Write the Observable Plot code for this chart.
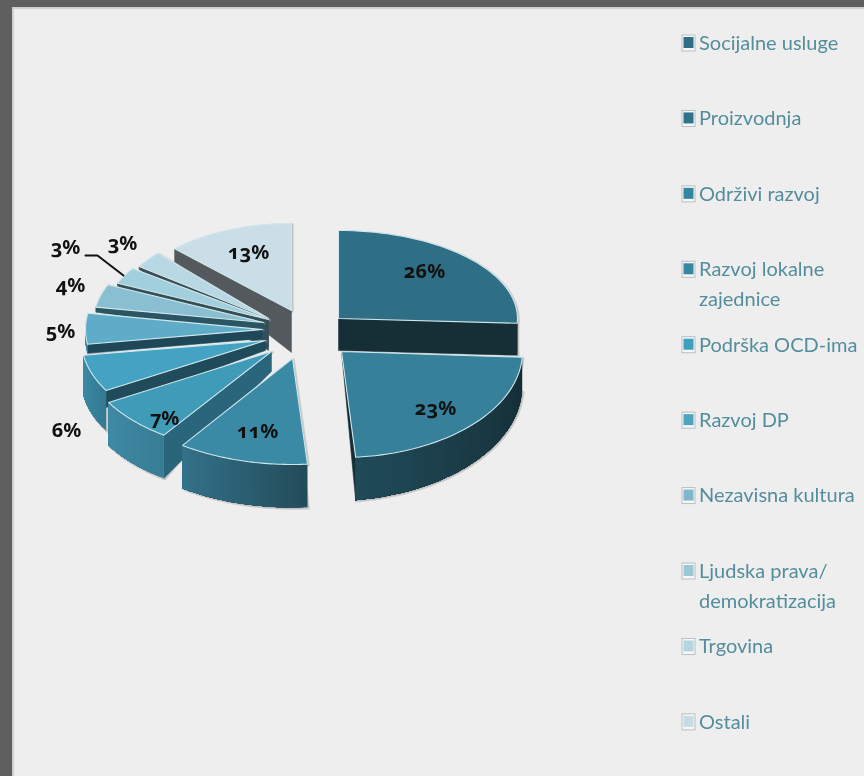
<!DOCTYPE html>
<html><head><meta charset="utf-8">
<script src="https://cdn.jsdelivr.net/npm/d3@7"></script>
<script src="https://cdn.jsdelivr.net/npm/@observablehq/plot@0.6"></script>
<style>
html,body{margin:0;padding:0;background:#eee;overflow:hidden}
svg{display:block}
text{font-variant-numeric:oldstyle-nums;font-feature-settings:"onum" 1}
</style></head><body>
<script>
// --- data ---
const categories = ["Socijalne usluge","Proizvodnja","Održivi razvoj","Razvoj lokalne\nzajednice","Podrška OCD-ima","Razvoj DP","Nezavisna kultura","Ljudska prava/\ndemokratizacija","Trgovina","Ostali"];
const shares = [26,23,11,7,6,5,4,3,3,12.5];

// --- styling ---
const topColors  = ["#2f6f85","#36809a","#3a8aa6","#409bb8","#44a3c2","#5eacc8","#8abfd2","#a2cfdd","#b8d9e3","#c9dee6"];
const swatchColors = ["#2f6f85","#2f7488","#32899f","#36879f","#3ea0bd","#4ea3c0","#7fb8cc","#9cc8d6","#b5d6e0","#c6dce4"];
const faceColors = ["#162e36","#162e36",null,"#2a667b","#1f4b5b","#1e4858","#2b5563","#354f59","#3c4e55","#53595d"];
const wallFrom   = ["#162e36","#142c34","#234c5a","#387d95","#347a93","#3d86a0",null,null,null,null];
const wallTo     = ["#162e36","#204a58","#33728a","#3f8aa5","#3d8aa5","#3d86a0",null,null,null,null];
// projected placement of each exploded slice
const cxs = [338,341,292,271,265,262,263,268,268,291];
const cys = [318,351,358,351,340,329,322,319,318,310];
const rxs = [179,181,192,188,184,177,170,165,157,166];
const rys = [ 88,106,106,102,100,100, 94, 90, 92, 87];
const wallD0 = [32,34,43,43,40, 9, 0, 0, 0, 0];
const wallD1 = [32,43,43,43,40, 9, 0, 0, 0, 0];
const faceSide = ["end","end",null,"start","start","start","start","start","start","start"];
const faceOuter = [32,43,0,43,17, 9, 5, 3, 3,13];
const faceApex  = [32, 0,0,20,10, 9,12,28,32,42];
const drawOrder = [0,9,8,7,6,5,4,3,2,1];
const labelX = [424,435,257,164,66,60,70,65,122,248];
const labelY = [271,408,431,418,430,331,285,247,243,252];
const leaderLine = [[85,255],[97,255],[123,275]];
const legendTop = 43, legendStep = 75.43;

// --- geometry from the values ---
const arcs = d3.pie().sort(null).value(d => d)(shares);
const deg = Math.PI;
const marks = [];
const rim = (i, t, drop = 0) => ({x: cxs[i] + rxs[i] * Math.sin(t), y: cys[i] - rys[i] * Math.cos(t) + drop});

for (const i of drawOrder) {
  const a0 = arcs[i].startAngle, a1 = arcs[i].endAngle, n = 40;
  const ts = d3.range(n + 1).map(k => a0 + (a1 - a0) * k / n);
  const apex = {x: cxs[i], y: cys[i]};
  const topPoly = [apex, ...ts.map(t => rim(i, t)), apex];
  const depth = t => wallD0[i] + (wallD1[i] - wallD0[i]) * (t - a0) / (a1 - a0);
  const front = ts.filter(t => t >= deg / 2 && t <= 1.5 * deg);

  // soft outline behind the solid
  const sil = [apex, ...ts.map(t => rim(i, t)),
               ...front.slice().reverse().map(t => rim(i, t, depth(t))), apex];
  marks.push(Plot.line(sil, {x: "x", y: "y", fill: "#999", stroke: "#9a9a9a", strokeWidth: 2.5, strokeOpacity: 0.4, fillOpacity: 0.4, dx: 1, dy: 1}));

  // radial cut face
  if (faceSide[i]) {
    const t = faceSide[i] === "start" ? a0 : a1;
    const p = rim(i, t);
    const face = [apex, p, {x: p.x, y: p.y + faceOuter[i]}, {x: apex.x, y: apex.y + faceApex[i]}, apex];
    marks.push(Plot.line(face, {x: "x", y: "y", fill: faceColors[i], stroke: faceColors[i], strokeWidth: 0.5}));
  }
  // outer wall: each strip runs to the far end, so no seams show between them
  if (wallFrom[i] && front.length > 1) {
    const shade = d3.interpolateRgb(wallFrom[i], wallTo[i]);
    const strips = [];
    front.slice(0, -1).forEach((t, k) => {
      const color = shade(k / (front.length - 2));
      const rest = front.slice(k);
      for (const u of rest) strips.push({id: k, color, ...rim(i, u)});
      for (const u of rest.slice().reverse()) strips.push({id: k, color, ...rim(i, u, depth(u))});
    });
    marks.push(Plot.line(strips, {x: "x", y: "y", z: "id", fill: "color", stroke: "none"}));
  }
  // top surface
  marks.push(Plot.line(topPoly, {x: "x", y: "y", fill: topColors[i], stroke: "#cfe6ec", strokeWidth: 1.1}));
}

// leader line
marks.push(Plot.line(leaderLine, {x: d => d[0], y: d => d[1], stroke: "#111", strokeWidth: 2}));

// percentage labels
marks.push(Plot.text(shares, {
  x: (d, i) => labelX[i], y: (d, i) => labelY[i], text: d => Math.round(d) + "%",
  fontFamily: "'Noto Sans', Lato, sans-serif", fontWeight: 700, fontSize: 20, fill: "#111"
}));

// legend
const legendY = (d, i) => legendTop + i * legendStep;
marks.push(
  Plot.rect(categories, {x1: () => 682, x2: () => 695, y1: (d, i) => legendY(d, i) - 8, y2: (d, i) => legendY(d, i) + 8,
    fill: "#f6f8f8", stroke: "#b5bfc2", strokeWidth: 1}),
  Plot.rect(categories, {x1: () => 683.5, x2: () => 693.5, y1: (d, i) => legendY(d, i) - 6, y2: (d, i) => legendY(d, i) + 5,
    fill: (d, i) => swatchColors[i]}),
  Plot.text(categories, {
    x: () => 698.5, y: legendY, text: d => d, textAnchor: "start", lineAnchor: "top", dy: -15, lineHeight: 1.5,
    fontFamily: "Lato, sans-serif", fontSize: 20, fill: "#548d9c"
  })
);

const chart = Plot.plot({
  width: 864, height: 776, margin: 0,
  x: {domain: [0, 864], range: [0, 864], axis: null},
  y: {domain: [0, 776], range: [0, 776], axis: null},
  style: {background: "#eeeeee", boxShadow: "inset 12px 7px 0 #5f5f5f, inset 14px 9px 1px #cfcfcf", filter: "blur(0.4px)", overflow: "hidden"},
  marks
});
document.body.appendChild(chart);
</script>
</body></html>
